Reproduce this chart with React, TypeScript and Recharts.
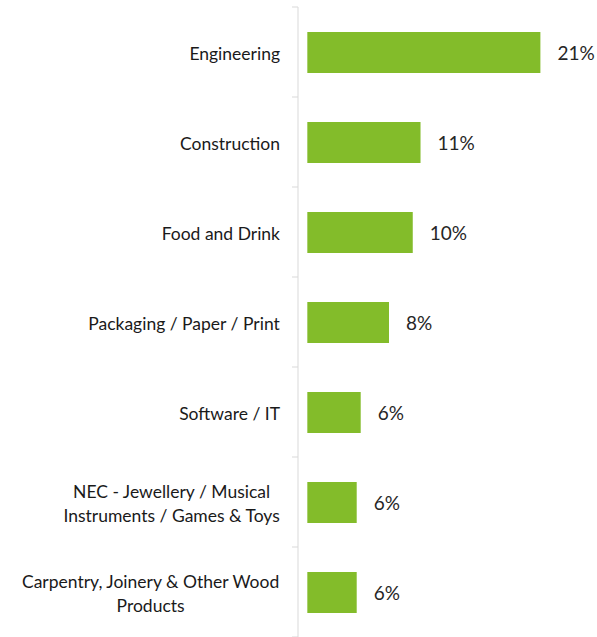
import React from "react";
import { BarChart, Bar, XAxis, YAxis, LabelList } from "recharts";

const categories = [
  "Engineering",
  "Construction",
  "Food and Drink",
  "Packaging / Paper / Print",
  "Software / IT",
  "NEC - Jewellery / Musical\nInstruments / Games & Toys",
  "Carpentry, Joinery & Other Wood\nProducts",
];
const values = [21, 10.2, 9.5, 7.36, 4.81, 4.45, 4.45];
const valueLabels = ["21%", "11%", "10%", "8%", "6%", "6%", "6%"];

const data = categories.map((c, i) => ({ name: c, value: values[i], label: valueLabels[i] }));

const FONT = "Lato, 'Noto Sans', sans-serif";
const BAR = "#83BC2A";
const AXIS = "#D9D9D9";

let ctx: CanvasRenderingContext2D | null = null;
function measure(text: string, size: number): number {
  if (!ctx && typeof document !== "undefined") {
    ctx = document.createElement("canvas").getContext("2d");
  }
  if (ctx) {
    ctx.font = `${size}px Lato`;
    return ctx.measureText(text).width;
  }
  return text.length * size * 0.47;
}

const CategoryTick = (props: any) => {
  const { x, y, payload, index } = props;
  const band = payload && payload.offset ? payload.offset * 2 : 90;
  const lines: string[] = String(payload.value).split("\n");
  const size = 17.5;
  const lh = 23.5;
  const right = x - 18;
  const block = Math.max(...lines.map((l) => measure(l, size)));
  const cx = right - block / 2;
  const first = y + 8 - ((lines.length - 1) * lh) / 2;
  return (
    <g>
      <line x1={x - 6} x2={x} y1={y - band / 2} y2={y - band / 2} stroke={AXIS} strokeWidth={1} />
      {index === categories.length - 1 ? (
        <line x1={x - 6} x2={x} y1={y + band / 2} y2={y + band / 2} stroke={AXIS} strokeWidth={1} />
      ) : null}
      {lines.map((l, i) => (
        <text
          key={i}
          x={cx}
          y={first + i * lh}
          textAnchor="middle"
          fontFamily={FONT}
          fontSize={size}
          fill="#1a1a1a"
        >
          {l}
        </text>
      ))}
    </g>
  );
};

const ValueLabel = (props: any) => {
  const { x, y, width, height, index } = props;
  return (
    <text
      x={x + width + 17}
      y={y + height / 2 + 7}
      fontFamily={FONT}
      fontSize={19}
      fill="#262626"
    >
      {valueLabels[index]}
    </text>
  );
};

export default function App() {
  return (
    <div style={{ position: "absolute", left: 0, top: 0, width: 597, height: 637, background: "#fff" }}>
      <BarChart
        width={597}
        height={637}
        data={data}
        layout="vertical"
        margin={{ top: 7, right: 10, bottom: 0, left: 0 }}
      >
        <XAxis type="number" hide domain={[-0.84, 25.2]} allowDataOverflow />
        <YAxis
          type="category"
          dataKey="name"
          width={298}
          tickLine={false}
          tickSize={0}
          tickMargin={0}
          axisLine={{ stroke: AXIS, strokeWidth: 1 }}
          tick={<CategoryTick />}
          interval={0}
        />
        <Bar dataKey="value" fill={BAR} barSize={41} isAnimationActive={false}>
          <LabelList dataKey="label" content={<ValueLabel />} />
        </Bar>
      </BarChart>
    </div>
  );
}
